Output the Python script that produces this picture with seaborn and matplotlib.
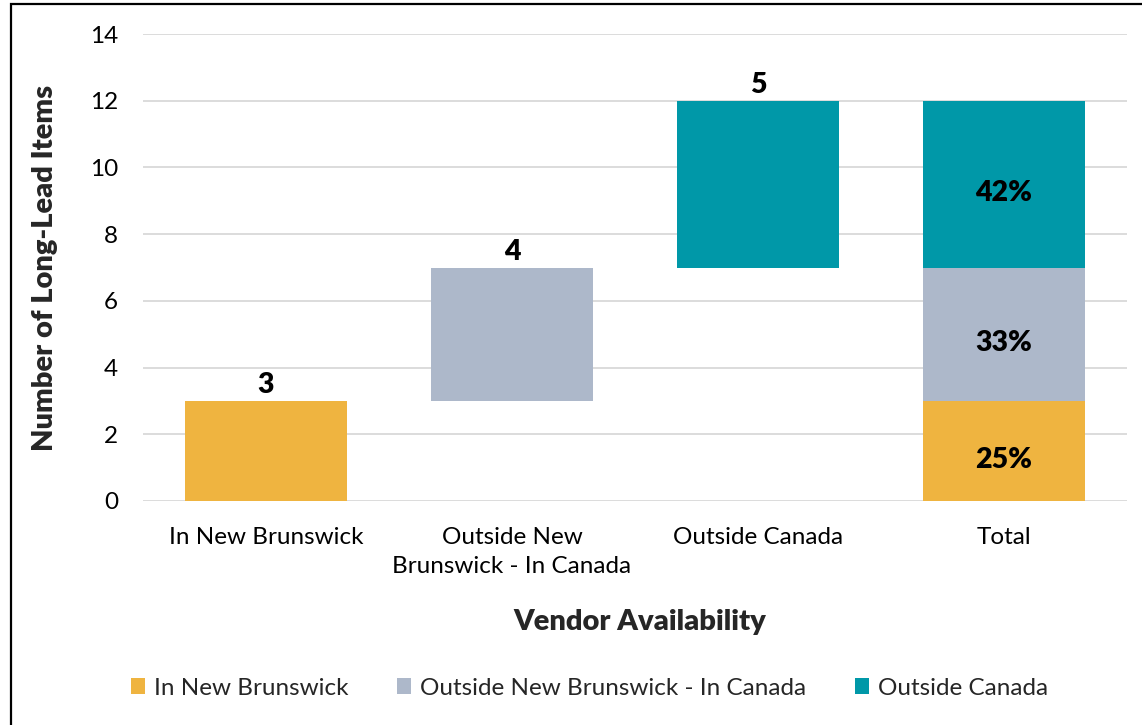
import matplotlib
matplotlib.use("Agg")
import matplotlib.pyplot as plt
import numpy as np
import pandas as pd
import seaborn as sns
from matplotlib.patches import Patch, Rectangle

# Data
categories = ["In New Brunswick", "Outside New\nBrunswick - In Canada", "Outside Canada", "Total"]
series = ["In New Brunswick", "Outside New Brunswick - In Canada", "Outside Canada"]
counts = [3, 4, 5]
colors = ["#EFB440", "#ADB8CA", "#0098A8"]

sns.set_theme(style="white")
plt.rcParams["font.family"] = ["Lato", "DejaVu Sans"]

# Build waterfall rows: each series once on its own category, and again stacked in "Total"
bottoms = np.concatenate([[0], np.cumsum(counts)[:-1]])
total = sum(counts)
rows = []
for i, name in enumerate(series):
    rows.append({"category": categories[i], "series": name, "value": counts[i],
                 "bottom": bottoms[i], "label": f"{counts[i]}", "where": "top"})
    rows.append({"category": categories[3], "series": name, "value": counts[i],
                 "bottom": bottoms[i], "label": f"{counts[i] / total:.0%}", "where": "mid"})
df = pd.DataFrame(rows)

fig = plt.figure(figsize=(11.42, 7.25), dpi=100)
ax = fig.add_axes([0.1252, 0.309, 0.8617, 0.644])

BOLD = "heavy"

for _, r in df.iterrows():
    sns.barplot(
        data=df[(df["category"] == r["category"]) & (df["series"] == r["series"])],
        x="category", y="value", order=categories,
        color=colors[series.index(r["series"])], saturation=1, width=0.66,
        bottom=r["bottom"], ax=ax, zorder=3, linewidth=0, edgecolor="none",
    )
    x = categories.index(r["category"])
    if r["where"] == "top":
        ax.annotate(r["label"], (x, r["bottom"] + r["value"]), xytext=(0, 11.5),
                    textcoords="offset points", ha="center", va="center",
                    fontsize=20.5, fontweight=BOLD, color="black")
    else:
        # labels sit slightly below the segment middle in the reference
        ax.annotate(r["label"], (x, r["bottom"] + r["value"] / 2), xytext=(0, -6.5),
                    textcoords="offset points", ha="center", va="center",
                    fontsize=20.5, fontweight=BOLD, color="black", zorder=4)

ax.set_ylim(0, 14)
ax.set_xlim(-0.5, 3.5)
ax.set_yticks(range(0, 15, 2))
ax.yaxis.grid(True, color="#D9D9D9", linewidth=1.3, zorder=0)
ax.set_axisbelow(True)
for s in ax.spines.values():
    s.set_visible(False)
ax.tick_params(axis="both", length=0, labelsize=17.5, colors="black")
ax.tick_params(axis="x", pad=19)
ax.tick_params(axis="y", pad=18)
for lbl in ax.get_xticklabels():
    lbl.set_linespacing(1.42)

ax.set_xlabel("Vendor Availability", fontsize=21, fontweight=BOLD, va="center")
ax.set_ylabel("Number of Long-Lead Items", fontsize=21, fontweight=BOLD, va="center")
ax.xaxis.set_label_coords(0.505, -0.259)
ax.yaxis.set_label_coords(-0.0995, 0.5)

handles = [Patch(facecolor=c, edgecolor="none") for c in colors]
fig.legend(handles, series, loc="center", bbox_to_anchor=(0.516, 0.051), ncol=3,
           frameon=False, fontsize=17.5, handlelength=0.6, handleheight=0.6,
           handletextpad=0.35, columnspacing=2.0)

# Outer chart frame
fig.patches.append(Rectangle((11 / 1142, -0.05), 1.2, 1 - 4 / 725 + 0.05,
                             transform=fig.transFigure, fill=False,
                             edgecolor="black", linewidth=1.6, clip_on=False))

fig.savefig("out.png", dpi=100)
